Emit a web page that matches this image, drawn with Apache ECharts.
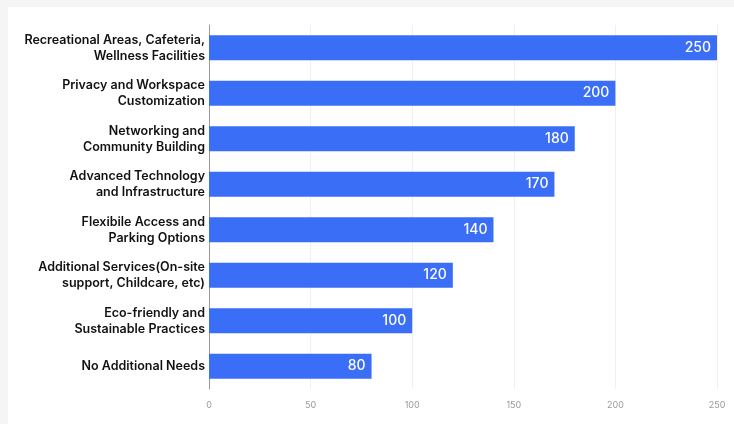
<!DOCTYPE html>
<html>
<head>
<meta charset="utf-8">
<script src="https://cdn.jsdelivr.net/npm/echarts@6/dist/echarts.min.js"></script>
<style>
html,body{margin:0;padding:0;background:#f5f5f5;width:734px;height:424px;overflow:hidden;}
#card{position:absolute;left:8px;top:7px;right:0;bottom:0;background:#fff;}
#chart{position:absolute;left:0;top:0;width:734px;height:424px;}
</style>
</head>
<body>
<div id="card"></div>
<div id="chart"></div>
<script>
const categories = [
  "Recreational Areas, Cafeteria,\nWellness Facilities",
  "Privacy and Workspace\nCustomization",
  "Networking and\nCommunity Building",
  "Advanced Technology\nand Infrastructure",
  "Flexibile Access and\nParking Options",
  "Additional Services(On-site\nsupport, Childcare, etc)",
  "Eco-friendly and\nSustainable Practices",
  "No Additional Needs"
];
const values = [250, 200, 180, 170, 140, 120, 100, 80];
const xTicks = [0, 50, 100, 150, 200, 250];

const chart = echarts.init(document.getElementById('chart'));
chart.setOption({
  backgroundColor: 'transparent',
  animation: false,
  grid: {left: 209, right: 17, top: 25, bottom: 35, containLabel: false},
  xAxis: {
    type: 'value', min: xTicks[0], max: xTicks[xTicks.length - 1], interval: 50,
    axisLine: {show: false}, axisTick: {show: false},
    axisLabel: {color: '#999', fontSize: 9, margin: 12, fontFamily: 'Inter'},
    splitLine: {show: true, lineStyle: {color: '#f0f0f0', width: 1}}
  },
  yAxis: {
    type: 'category', data: categories, inverse: true,
    axisLine: {show: true, lineStyle: {color: '#999', width: 1}},
    axisTick: {show: false},
    axisLabel: {color: '#111', fontSize: 12.5, fontWeight: 600, fontFamily: 'Inter', lineHeight: 16, margin: 4, align: 'right'}
  },
  series: [{
    type: 'bar', data: values, barWidth: 25,
    itemStyle: {color: '#3a6ef6'},
    label: {show: true, position: 'insideRight', color: '#fff', fontSize: 14, fontWeight: 500, fontFamily: 'Inter', distance: 6}
  }]
});
</script>
</body>
</html>
